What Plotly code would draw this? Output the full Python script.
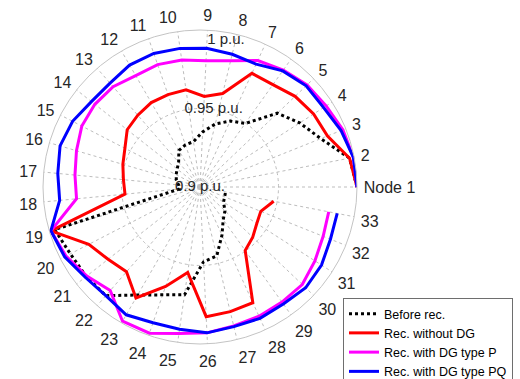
import plotly.graph_objects as go

# Node labels (angular categories)
nodes = ["Node 1"] + [str(i) for i in range(2, 34)]

# Voltage profiles (p.u.)
before = [1.0000, 0.9970, 0.9829, 0.9755, 0.9681, 0.9497, 0.9462, 0.9413, 0.9351, 0.9292,
          0.9284, 0.9269, 0.9208, 0.9185, 0.9171, 0.9157, 0.9137, 0.9131, 0.9965, 0.9929,
          0.9922, 0.9916, 0.9794, 0.9727, 0.9694, 0.9477, 0.9452, 0.9337, 0.9255, 0.9220,
          0.9178, 0.9169, 0.9166]
rec_no_dg = [1.0000, 0.9970, 0.9875, 0.9860, 0.9837, 0.9800, 0.9796, 0.9613, 0.9577, 0.9625,
             0.9623, 0.9621, 0.9605, 0.9590, 0.9538, 0.9512, 0.9490, 0.9480, 0.9990, 0.9797,
             0.9745, 0.9715, 0.9816, 0.9670, 0.9550, 0.9827, 0.9817, 0.9810, 0.9496, 0.9464,
             0.9430, 0.9417, 0.9478]
rec_dg_p = [1.0000, 0.9995, 0.9980, 0.9955, 0.9942, 0.9915, 0.9886, 0.9828, 0.9805, 0.9817,
            0.9825, 0.9819, 0.9845, 0.9852, 0.9847, 0.9820, 0.9800, 0.9790, 0.9990, 0.9960,
            0.9917, 0.9873, 0.9987, 0.9985, 0.9942, 0.9930, 0.9910, 0.9905, 0.9900, 0.9900,
            0.9870, 0.9845, 0.9835]
rec_dg_pq = [1.0000, 0.9995, 0.9968, 0.9936, 0.9934, 0.9908, 0.9860, 0.9870, 0.9885, 0.9892,
             0.9900, 0.9897, 0.9875, 0.9880, 0.9913, 0.9929, 0.9910, 0.9898, 0.9990, 0.9970,
             0.9930, 0.9916, 0.9940, 0.9915, 0.9915, 0.9930, 0.9915, 0.9920, 0.9915, 0.9930,
             0.9920, 0.9895, 0.9890]

# Radial ring labels
radial_vals = [0.9, 0.95, 0.995]
radial_text = ["0.9 p.u.", "0.95 p.u.", "1 p.u."]

n = len(nodes)
theta = [i * 360.0 / n for i in range(n)]

series = [
    ("Before rec.", before, "black", "dot"),
    ("Rec. without DG", rec_no_dg, "#ff0000", "solid"),
    ("Rec. with DG type P", rec_dg_p, "#ff00ff", "solid"),
    ("Rec. with DG type PQ", rec_dg_pq, "#0000ff", "solid"),
]

fig = go.Figure()
for name, vals, color, dash in series:
    fig.add_trace(go.Scatterpolar(
        r=vals, theta=theta, mode="lines", name=name,
        line=dict(color=color, width=3, dash=dash),
        cliponaxis=False,
    ))

fig.add_trace(go.Scatterpolar(
    r=radial_vals, theta=[80] * len(radial_vals), mode="text",
    text=radial_text, textposition="middle center",
    textfont=dict(family="Liberation Sans, Arial, sans-serif", size=15, color="#262626"),
    showlegend=False, hoverinfo="skip", cliponaxis=False,
))

W, H = 520, 379
cx, cy, R = 200, 187, 157

fig.update_layout(
    width=W, height=H,
    margin=dict(l=0, r=0, t=0, b=0, autoexpand=False),
    paper_bgcolor="white",
    font=dict(family="Liberation Sans, Arial, sans-serif", color="#262626"),
    polar=dict(
        domain=dict(x=[(cx - R) / W, (cx + R) / W],
                    y=[(H - cy - R) / H, (H - cy + R) / H]),
        bgcolor="white",
        radialaxis=dict(range=[0.9, 1.0], tickvals=[0.95], showticklabels=False,
                        ticks="", showline=False, gridcolor="#bdbdbd",
                        griddash="dot", gridwidth=1),
        angularaxis=dict(tickmode="array", tickvals=theta, ticktext=nodes,
                         direction="counterclockwise", rotation=0,
                         thetaunit="degrees", showgrid=True,
                         gridcolor="#bdbdbd", griddash="dot", gridwidth=1,
                         showline=True, linecolor="#c4c4c4", linewidth=1,
                         ticks="outside", ticklen=3, tickcolor="rgba(0,0,0,0)",
                         tickfont=dict(size=16, color="#262626")),
    ),
    legend=dict(x=343 / W, y=1 - 298 / H, xanchor="left", yanchor="top",
                bgcolor="white", bordercolor="#6e6e6e", borderwidth=1,
                font=dict(size=12.5, color="black"), tracegroupgap=0),
    showlegend=True,
)

fig.write_html("out.html")
